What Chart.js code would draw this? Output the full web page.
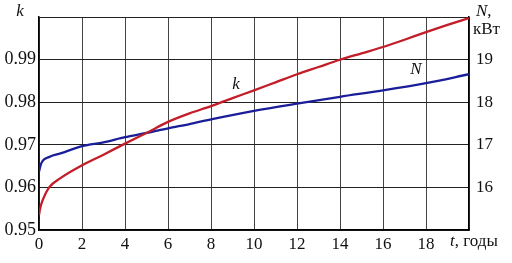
<!DOCTYPE html>
<html><head><meta charset="utf-8">
<script src="https://cdn.jsdelivr.net/npm/chart.js@4"></script>
<style>html,body{margin:0;padding:0;background:#fff}#wrap{width:512px;height:263px}</style>
</head><body><div id="wrap"><canvas id="c" width="512" height="263"></canvas></div>
<script>
const kT = [0,0.05,0.17,0.47,1,2,3,4,5,6,7,8,9,10,11,12,13,14,15,16,17,18,19,20];
const kVals = [0.9535,0.955,0.957,0.960,0.9622,0.9652,0.9677,0.9703,0.9728,0.9754,0.9774,0.9791,0.981,0.9828,0.9847,0.9866,0.9883,0.990,0.9915,0.993,0.9947,0.9965,0.9982,0.9998];
const nT = [0,0.1,0.5,1,2,3,4,5,6,7,8,10,12,14,16,18,20];
const nVals = [16.37,16.56,16.72,16.80,16.97,17.06,17.18,17.28,17.39,17.49,17.60,17.80,17.97,18.13,18.28,18.45,18.66];
const xTicks = [0,2,4,6,8,10,12,14,16,18];
const kTicks = [0.95,0.96,0.97,0.98,0.99];
const nTicks = [16,17,18,19];

const serif = '"Liberation Serif","Times New Roman",serif';
const labels = {
  id:'labels',
  afterDraw(chart){
    const c = chart.ctx;
    c.save();
    c.fillStyle = '#111';
    c.textBaseline = 'middle';
    c.font = 'italic 17px ' + serif;
    c.textAlign = 'center';
    c.fillText('k', 20, 12);
    c.fillText('k', 236, 85);
    c.fillText('N', 416, 70);
    c.textAlign = 'left';
    c.fillText('N', 476, 12);
    const wN = c.measureText('N').width;
    c.font = '17px ' + serif;
    c.fillText(',', 476 + wN, 12);
    c.fillText('кВт', 473, 30);
    c.font = 'italic 17px ' + serif;
    c.fillText('t', 450, 242);
    const wt = c.measureText('t').width;
    c.font = '17px ' + serif;
    c.fillText(', годы', 450 + wt, 242);
    c.restore();
  }
};

new Chart(document.getElementById('c'), {
  type:'line',
  data:{datasets:[
    {label:'k', data:kT.map((t,i)=>({x:t,y:kVals[i]})), yAxisID:'y', borderColor:'#c21d28', borderWidth:2.3, pointRadius:0, cubicInterpolationMode:'monotone'},
    {label:'N', data:nT.map((t,i)=>({x:t,y:nVals[i]})), yAxisID:'y1', borderColor:'#1a1e98', borderWidth:2.3, pointRadius:0, cubicInterpolationMode:'monotone'}
  ]},
  options:{
    responsive:false, animation:false, devicePixelRatio:1,
    layout:{padding:{top:12,left:0,right:0,bottom:0}},
    plugins:{legend:{display:false}, tooltip:{enabled:false}},
    scales:{
      x:{type:'linear', min:0, max:20,
        afterBuildTicks(s){s.ticks = [...xTicks,20].map(v=>({value:v}));},
        afterFit(s){s.height = 33;},
        ticks:{color:'#111', font:{family:serif,size:17}, padding:4, maxRotation:0, autoSkip:false,
          callback:v=> xTicks.includes(v) ? String(v) : ''},
        grid:{color:'#444', lineWidth:1, drawTicks:false},
        border:{color:'#000', width:1.5}
      },
      y:{type:'linear', position:'left', min:0.95, max:1.0,
        afterBuildTicks(s){s.ticks = [...kTicks,1.0].map(v=>({value:v}));},
        afterFit(s){s.width = 39;},
        ticks:{color:'#111', font:{family:serif,size:18}, padding:3,
          callback:v=> kTicks.some(t=>Math.abs(t-v)<1e-9) ? v.toFixed(2) : ''},
        grid:{color:'#222', lineWidth:1, drawTicks:false},
        border:{color:'#000', width:1.5}
      },
      y1:{type:'linear', position:'right', min:15, max:20,
        afterBuildTicks(s){s.ticks = [15,...nTicks,20].map(v=>({value:v}));},
        afterFit(s){s.width = 43;},
        ticks:{color:'#111', font:{family:serif,size:17}, padding:7,
          callback:v=> nTicks.includes(v) ? String(v) : ''},
        grid:{display:false, drawTicks:false},
        border:{color:'#000', width:1.5}
      }
    }
  },
  plugins:[labels]
});
</script></body></html>
